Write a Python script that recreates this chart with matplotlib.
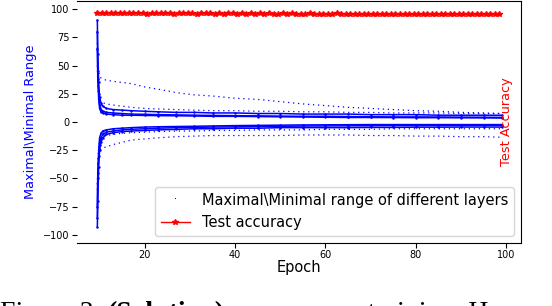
import numpy as np
import matplotlib
matplotlib.use("Agg")
import matplotlib.pyplot as plt
from matplotlib.lines import Line2D

# test accuracy, one value per epoch
acc_epochs = np.arange(9.5, 99.0, 1.0)
acc = [96.6, 96.3, 96.5, 96.2, 96.4, 96.6, 96.1, 96.3, 96.5, 96.2,
       96.4, 96.0, 96.3, 96.5, 96.1, 96.2, 96.4, 96.0, 96.3, 96.1,
       96.5, 96.2, 95.9, 96.3, 96.1, 96.4, 96.0, 96.2, 95.9, 96.3,
       96.1, 95.8, 96.2, 96.0, 96.3, 95.9, 96.1, 95.8, 96.2, 96.0,
       95.8, 96.1, 95.9, 96.2, 95.8, 96.0, 95.7, 96.1, 95.9, 95.8,
       96.0, 95.7, 95.9, 96.1, 95.8, 95.6, 96.0, 95.8, 95.6, 95.9,
       95.7, 95.9, 95.5, 95.8, 95.6, 95.9, 95.7, 95.5, 95.8, 95.6,
       95.4, 95.7, 95.5, 95.8, 95.4, 95.6, 95.3, 95.7, 95.5, 95.4,
       95.6, 95.3, 95.5, 95.2, 95.6, 95.4, 95.2, 95.5, 95.3, 95.4]

# max / min range of several layers
range_epochs = [9.5, 9.6, 9.8, 10.0, 10.3, 10.7, 11.5, 13, 15, 17, 20, 23, 27, 31,
                35, 40, 45, 50, 55, 60, 65, 70, 75, 80, 85, 90, 95, 99]
max_a = [70, 55, 45, 40, 39, 38, 37, 36, 35, 34, 31, 29, 26, 24,
         23, 21, 20, 18, 16, 14.5, 13, 12, 11, 10, 9.5, 8.5, 8, 7.5]
max_b = [90, 60, 35, 22, 17, 14, 12, 11, 10.5, 10, 9.5, 9, 8.5, 8.5,
         8, 8, 7.5, 7.5, 7, 7, 7, 6.5, 6.5, 6.5, 6, 6, 6, 6]
max_c = [80, 45, 20, 12, 9, 8, 7, 6.5, 6, 6, 5.8, 5.6, 5.5, 5.3,
         5, 5, 4.8, 4.6, 4.4, 4.2, 4, 4, 3.9, 3.8, 3.8, 3.7, 3.6, 3.5]
max_d = [65, 38, 25, 15, 11, 9.5, 8.5, 8, 7.5, 7, 6.8, 6.5, 6.3, 6,
         5.8, 5.6, 5.4, 5.2, 5, 5, 4.8, 4.6, 4.5, 4.5, 4.4, 4.3, 4.2, 4.1]
max_e = [50, 30, 22, 19, 18, 17, 16, 15, 14, 13, 12, 11.5, 11, 10.5,
         10, 10, 9.5, 9.5, 9, 9, 8.5, 8.5, 8, 8, 8, 7.5, 7.5, 7.5]
min_a = [-93, -70, -40, -25, -18, -14, -11, -9.5, -8.5, -8, -7.5, -7, -6.5, -6,
         -6, -5.5, -5.5, -5, -5, -5, -5, -4.8, -4.8, -4.6, -4.6, -4.5, -4.5, -4.5]
min_b = [-85, -50, -25, -14, -10, -8, -7, -6, -5.5, -5, -4.5, -4.2, -4, -3.8,
         -3.5, -3.2, -3, -2.8, -2.6, -2.5, -2.4, -2.3, -2.3, -2.3, -2.3, -2.3, -2.3, -2.3]
min_c = [-75, -45, -30, -20, -14, -11, -9, -8, -7, -6.5, -6, -5.5, -5, -4.8,
         -4.5, -4.3, -4, -3.8, -3.6, -3.5, -3.4, -3.3, -3.2, -3.2, -3.1, -3.1, -3, -3]
min_d = [-60, -40, -30, -26, -24, -23, -22, -20, -18, -16, -15, -14, -13, -12.5,
         -12, -12, -12, -12, -11.5, -11.5, -11.5, -12, -12, -12.5, -12.5, -13, -13, -13.5]
min_e = [-55, -35, -22, -17, -15, -13, -12, -11, -10, -9.5, -9, -8.5, -8, -8,
         -7.5, -7.5, -7, -7, -7, -6.5, -6.5, -6.5, -6, -6, -6, -6, -6, -6]

dense_layers = [max_b, max_c, max_d, min_a, min_b, min_c]
sparse_layers = [max_a, max_e, min_d, min_e]

fig = plt.figure(figsize=(5.52, 3.06), dpi=100)
ax = fig.add_axes([0.1395, 0.206, 0.8045, 0.7907])

for vals in dense_layers:
    ax.plot(range_epochs, vals, color="blue", lw=1.1, marker=".", ms=1.5)
for vals in sparse_layers:
    ax.plot(range_epochs, vals, color="blue", lw=0.9, ls=(0, (1, 3)))

ax.plot(acc_epochs, acc, color="red", lw=1, marker="*", ms=4)

ax.set_xlim(5.0, 103.3)
ax.set_ylim(-107.1, 107.1)
ax.set_xticks([20, 40, 60, 80, 100])
ax.set_yticks([-100, -75, -50, -25, 0, 25, 50, 75, 100])
ax.tick_params(labelsize=7)
ax.tick_params(axis="x", pad=1.5)
ax.tick_params(axis="y", pad=2)
ax.spines["left"].set_visible(False)

ax.set_xlabel("Epoch", fontsize=10.5, labelpad=0)
ax.set_ylabel("Maximal\\Minimal Range", color="blue", fontsize=9.3)
ax.yaxis.set_label_coords(-0.09, 0.5)
ax.text(0.967, 0.5, "Test Accuracy", color="red", fontsize=9.3, rotation=90,
        ha="center", va="center", transform=ax.transAxes)

handles = [Line2D([], [], color="blue", marker=",", ls="None"),
           Line2D([], [], color="red", lw=1, marker="*", ms=4)]
ax.legend(handles, ["Maximal\\Minimal range of different layers", "Test accuracy"],
          loc="lower right", fontsize=10.5, borderaxespad=0.5)

# caption of the paper, only its top shows
fig.text(0.0, -0.047, "Figure 3: ", family="Liberation Serif", fontsize=20, va="baseline")
fig.text(0.195, -0.047, "(Solution)", family="Liberation Serif", fontsize=20,
         weight="bold", va="baseline")
fig.text(0.42, -0.047, "ranges over training. H", family="Liberation Serif",
         fontsize=20, va="baseline")

fig.savefig("out.png", dpi=100)
